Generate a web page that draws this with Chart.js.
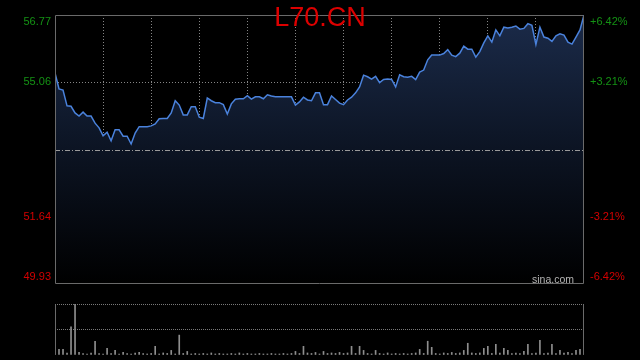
<!DOCTYPE html>
<html>
<head>
<meta charset="utf-8">
<script src="https://cdn.jsdelivr.net/npm/chart.js@4.4.0/dist/chart.umd.min.js"></script>
<style>
  html, body { margin: 0; padding: 0; background: #000; }
  #wrap { position: relative; width: 640px; height: 360px; overflow: hidden; }
  canvas { position: absolute; left: 0; }
  #priceChart { top: 0; }
  #volChart { top: 290px; }
  .title { position: absolute; left: 0; width: 640px; top: 4px; text-align: center;
           font: 27px/27px 'Liberation Sans', Arial, sans-serif; color: #dd0000; }
  .mark { position: absolute; left: 532px; top: 274px;
          font: 10.5px/10.5px 'Liberation Sans', Arial, sans-serif; color: #b4b4b4; }
</style>
</head>
<body>
<div id="wrap">
  <canvas id="priceChart" width="640" height="290"></canvas>
  <canvas id="volChart" width="640" height="70"></canvas>
  <div class="title">L70.CN</div>
  <div class="mark">sina.com</div>
</div>
<script>
// intraday prices, one sample per time slot
const prices = [
  55.30, 54.89, 54.86, 54.46, 54.45, 54.28, 54.20, 54.30, 54.20, 54.20, 54.02, 53.90,
  53.70, 53.79, 53.57, 53.85, 53.85, 53.69, 53.69, 53.49, 53.77, 53.93, 53.93, 53.93,
  53.95, 54.00, 54.13, 54.14, 54.14, 54.28, 54.59, 54.48, 54.23, 54.23, 54.44, 54.44,
  54.17, 54.14, 54.66, 54.59, 54.54, 54.54, 54.49, 54.25, 54.51, 54.63, 54.64, 54.64,
  54.72, 54.63, 54.69, 54.69, 54.64, 54.74, 54.71, 54.69, 54.69, 54.69, 54.69, 54.69,
  54.48, 54.56, 54.68, 54.61, 54.59, 54.79, 54.79, 54.49, 54.49, 54.71, 54.62, 54.53,
  54.49, 54.61, 54.68, 54.79, 54.94, 55.24, 55.20, 55.14, 55.21, 55.05, 55.13, 55.14,
  55.13, 54.94, 55.25, 55.20, 55.19, 55.21, 55.13, 55.32, 55.37, 55.63, 55.75, 55.75,
  55.75, 55.79, 55.89, 55.75, 55.71, 55.80, 55.98, 55.90, 55.90, 55.70, 55.84, 56.06,
  56.24, 56.08, 56.39, 56.24, 56.46, 56.44, 56.46, 56.49, 56.41, 56.43, 56.55, 56.51,
  56.02, 56.46, 56.21, 56.18, 56.10, 56.24, 56.29, 56.26, 56.08, 56.03, 56.21, 56.39,
  56.77
];

// traded volume per time slot
const volumes = [
  250, 110, 110, 40, 550, 1000, 50, 30, 20, 40, 270, 30,
  20, 130, 30, 90, 20, 50, 30, 20, 40, 50, 30, 20,
  30, 170, 20, 40, 30, 90, 20, 390, 30, 70, 20, 30,
  20, 30, 20, 40, 20, 30, 20, 20, 30, 20, 40, 20,
  30, 20, 20, 30, 20, 20, 30, 20, 20, 30, 20, 30,
  70, 30, 170, 40, 30, 50, 20, 70, 30, 40, 30, 50,
  30, 40, 170, 30, 170, 90, 30, 20, 90, 30, 20, 40,
  20, 30, 20, 30, 20, 30, 40, 110, 30, 270, 150, 30,
  20, 40, 30, 50, 30, 40, 90, 230, 40, 30, 40, 130,
  170, 30, 210, 40, 130, 90, 30, 40, 30, 70, 210, 30,
  40, 290, 30, 40, 210, 30, 90, 40, 50, 30, 90, 110,
  250
];

const prevClose = 53.35;
const priceTicks = [49.93, 51.64, 53.35, 55.06, 56.77];
const priceLabels = ['49.93', '51.64', '', '55.06', '56.77'];
const pctLabels = ['-6.42%', '-3.21%', '', '+3.21%', '+6.42%'];
const volTicks = [0, 500, 1000];

const slots = prices.map((_, i) => i);
const lastSlot = slots.length - 1;
const gridSlots = Array.from({ length: 12 }, (_, k) => k * 12);

const UP = '#149214';
const DOWN = '#d40000';
const GRID = '#858585';
const FRAME = '#6a6a6a';

Chart.defaults.font.family = "'Liberation Sans', Arial, sans-serif";
Chart.defaults.font.size = 11;

// keep edge labels inside the frame, like the original
function nudge(text, i, n) {
    if (i === 0) return [text, ''];
    if (i === n - 1) return ['', text];
    return text;
}

const framePlugin = {
    id: 'frame',
    afterDraw(chart, args, opts) {
        const { ctx, chartArea: a } = chart;
        ctx.save();
        ctx.lineWidth = 1;
        if (opts.base !== undefined) {
            const y = Math.round(chart.scales.y.getPixelForValue(opts.base)) + 0.5;
            ctx.strokeStyle = '#9a9a9a';
            ctx.setLineDash([5, 2, 1, 2]);
            ctx.beginPath();
            ctx.moveTo(a.left, y);
            ctx.lineTo(a.right, y);
            ctx.stroke();
        }
        ctx.setLineDash([]);
        ctx.strokeStyle = FRAME;
        const l = Math.round(a.left) + 0.5, r = Math.round(a.right) - 0.5;
        const t = Math.round(a.top) + 0.5, b = Math.round(a.bottom) - 0.5;
        ctx.beginPath();
        if (opts.full) {
            ctx.rect(l, t, r - l, b - t);
        } else {
            ctx.moveTo(l, t); ctx.lineTo(l, b);
            ctx.moveTo(r, t); ctx.lineTo(r, b);
        }
        ctx.stroke();
        ctx.restore();
    }
};

function areaGradient(context) {
    const { chart } = context;
    const a = chart.chartArea;
    if (!a) return 'rgba(0,0,0,0)';
    const g = chart.ctx.createLinearGradient(0, a.top, 0, a.bottom);
    g.addColorStop(0, '#1b2b4a');
    g.addColorStop(0.5, '#0c1423');
    g.addColorStop(1, '#000000');
    return g;
}

function fixWidth(w) {
    return s => { s.width = w; s.paddingTop = 0; s.paddingBottom = 0; };
}

new Chart(document.getElementById('priceChart'), {
    type: 'line',
    data: {
        labels: slots,
        datasets: [{
            data: prices,
            borderColor: '#4a82dc',
            borderWidth: 1.5,
            pointRadius: 0,
            tension: 0,
            fill: 'start',
            backgroundColor: areaGradient,
        }],
    },
    options: {
        responsive: false,
        animation: false,
        events: [],
        layout: { padding: { top: 15, bottom: 6 } },
        plugins: {
            legend: { display: false },
            tooltip: { enabled: false },
            frame: { base: prevClose, full: true },
        },
        scales: {
            x: {
                type: 'linear', min: 0, max: lastSlot, z: 1,
                afterBuildTicks: s => { s.ticks = gridSlots.map(v => ({ value: v })); },
                afterFit: s => { s.height = 0; s.paddingLeft = 0; s.paddingRight = 0; },
                ticks: { display: false },
                grid: {
                    drawTicks: false,
                    color: c => (c.index === 0 || c.index === gridSlots.length - 1) ? 'rgba(0,0,0,0)' : GRID,
                },
                border: { display: false, dash: [1, 2] },
            },
            y: {
                position: 'left', min: priceTicks[0], max: priceTicks[priceTicks.length - 1], z: 1,
                afterBuildTicks: s => { s.ticks = priceTicks.map(v => ({ value: v })); },
                afterFit: fixWidth(55),
                ticks: {
                    padding: 4,
                    color: c => c.tick.value >= prevClose ? UP : DOWN,
                    callback: (v, i) => nudge(priceLabels[i], i, priceTicks.length),
                },
                grid: {
                    drawTicks: false,
                    color: c => (c.index === 0 || c.index === priceTicks.length - 1 || c.tick.value === prevClose)
                        ? 'rgba(0,0,0,0)' : GRID,
                },
                border: { display: false, dash: [1, 2] },
            },
            yr: {
                position: 'right', min: priceTicks[0], max: priceTicks[priceTicks.length - 1],
                afterBuildTicks: s => { s.ticks = priceTicks.map(v => ({ value: v })); },
                afterFit: fixWidth(56),
                ticks: {
                    padding: 6,
                    color: c => c.tick.value >= prevClose ? UP : DOWN,
                    callback: (v, i) => nudge(pctLabels[i], i, priceTicks.length),
                },
                grid: { display: false, drawTicks: false },
                border: { display: false },
            },
        },
    },
    plugins: [framePlugin],
});

new Chart(document.getElementById('volChart'), {
    type: 'bar',
    data: {
        labels: slots,
        datasets: [{
            data: volumes,
            backgroundColor: '#8e8e8e',
            barThickness: 1,
        }],
    },
    options: {
        responsive: false,
        animation: false,
        events: [],
        layout: { padding: { top: 14, bottom: 5, right: 56 } },
        plugins: {
            legend: { display: false },
            tooltip: { enabled: false },
            frame: { full: false },
        },
        scales: {
            x: { type: 'linear', min: 0, max: lastSlot, offset: false, display: false },
            y: {
                min: volTicks[0], max: volTicks[volTicks.length - 1], z: 1,
                afterBuildTicks: s => { s.ticks = volTicks.map(v => ({ value: v })); },
                afterFit: fixWidth(55),
                ticks: { display: false },
                grid: {
                    drawTicks: false,
                    color: c => c.index === 0 ? 'rgba(0,0,0,0)' : '#7a7a7a',
                },
                border: { display: false, dash: [1, 1] },
            },
        },
    },
    plugins: [framePlugin],
});
</script>
</body>
</html>
